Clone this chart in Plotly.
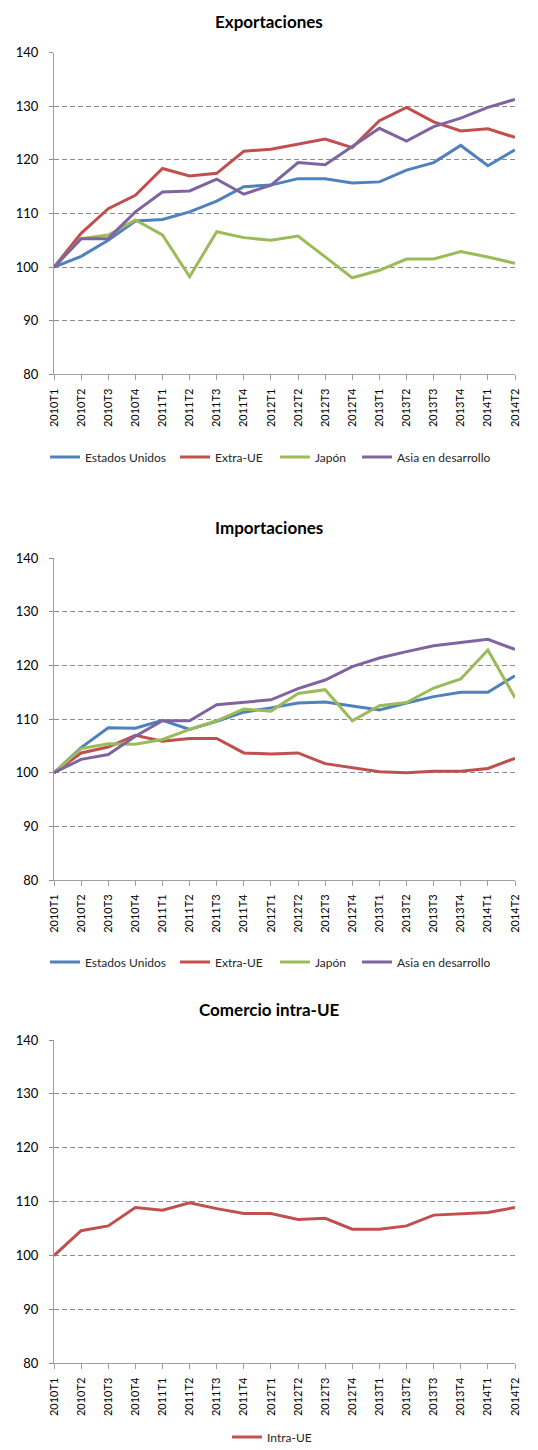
import plotly.graph_objects as go

W, H = 538, 1450

periods = ["2010T1", "2010T2", "2010T3", "2010T4", "2011T1", "2011T2", "2011T3", "2011T4",
           "2012T1", "2012T2", "2012T3", "2012T4", "2013T1", "2013T2", "2013T3", "2013T4",
           "2014T1", "2014T2"]

# Exportaciones
exp_eeuu = [100, 102.0, 105.0, 108.6, 108.9, 110.3, 112.3, 115.0, 115.3, 116.5, 116.5, 115.7,
            115.9, 118.1, 119.5, 122.7, 118.9, 121.9]
exp_extra = [100, 106.3, 110.9, 113.4, 118.4, 117.0, 117.5, 121.6, 122.0, 122.9, 123.9, 122.3,
             127.3, 129.8, 127.1, 125.4, 125.8, 124.2]
exp_japon = [100, 105.3, 106.0, 108.8, 106.0, 98.2, 106.6, 105.5, 105.0, 105.8, 101.9, 98.0,
             99.4, 101.5, 101.5, 102.9, 101.9, 100.7]
exp_asia = [100, 105.3, 105.3, 110.3, 114.0, 114.2, 116.4, 113.6, 115.3, 119.5, 119.1, 122.5,
            125.9, 123.5, 126.2, 127.8, 129.8, 131.3]

# Importaciones
imp_eeuu = [100, 104.7, 108.4, 108.3, 109.8, 108.1, 109.6, 111.3, 112.1, 113.0, 113.2, 112.5,
            111.7, 113.0, 114.2, 115.0, 115.0, 118.1]
imp_extra = [100, 103.7, 104.8, 107.0, 105.9, 106.4, 106.4, 103.7, 103.5, 103.7, 101.7, 101.0,
             100.2, 100.0, 100.3, 100.3, 100.8, 102.7]
imp_japon = [100, 104.5, 105.4, 105.3, 106.2, 108.1, 109.7, 111.9, 111.5, 114.8, 115.5, 109.7,
             112.5, 113.1, 115.8, 117.5, 122.9, 114.0]
imp_asia = [100, 102.5, 103.4, 106.8, 109.7, 109.7, 112.7, 113.1, 113.6, 115.7, 117.3, 119.8,
            121.4, 122.6, 123.7, 124.3, 124.9, 123.0]

# Comercio intra-UE
intra_ue = [100, 104.6, 105.5, 108.9, 108.4, 109.8, 108.7, 107.8, 107.8, 106.7, 106.9, 104.9,
            104.9, 105.5, 107.5, 107.7, 108.0, 108.9]

colors = {"Estados Unidos": "#4F81BD", "Extra-UE": "#C0504D", "Japón": "#9BBB59",
          "Asia en desarrollo": "#8064A2", "Intra-UE": "#C0504D"}

titles = ["Exportaciones", "Importaciones", "Comercio intra-UE"]
yticks = [80, 90, 100, 110, 120, 130, 140]

FONT = "Lato, 'Open Sans', sans-serif"

# pixel geometry of each panel (top, bottom), titles, legend rows and legend entries
panels = [(52.7, 374.3), (558.3, 880.0), (1040.0, 1363.3)]
title_y = [21, 527, 1010]
legend_y = [457, 962, 1437]
legend_x = {"Estados Unidos": 51, "Extra-UE": 181, "Japón": 281,
            "Asia en desarrollo": 363, "Intra-UE": 233}
x_left, x_right = 54, 515


def py(v):
    return 1 - v / H


fig = go.Figure()

panel_data = [
    [("Estados Unidos", exp_eeuu), ("Extra-UE", exp_extra), ("Japón", exp_japon),
     ("Asia en desarrollo", exp_asia)],
    [("Estados Unidos", imp_eeuu), ("Extra-UE", imp_extra), ("Japón", imp_japon),
     ("Asia en desarrollo", imp_asia)],
    [("Intra-UE", intra_ue)],
]

legend_common = dict(
    orientation="h", xref="paper", yref="paper", yanchor="middle", xanchor="left",
    font=dict(family=FONT, size=12, color="#262626"), bgcolor="rgba(0,0,0,0)",
    itemwidth=30, tracegroupgap=0, borderwidth=0,
)

layout = dict(
    width=W, height=H, autosize=False,
    margin=dict(l=0, r=0, t=0, b=0, pad=0, autoexpand=False),
    paper_bgcolor="white", plot_bgcolor="white",
    font=dict(family=FONT, color="#000000"),
    annotations=[], showlegend=True,
)

n_leg = 0
for k, data in enumerate(panel_data):
    xa = "x" if k == 0 else f"x{k+1}"
    ya = "y" if k == 0 else f"y{k+1}"
    for name, vals in data:
        n_leg += 1
        lg = "legend" if n_leg == 1 else f"legend{n_leg}"
        fig.add_trace(go.Scatter(
            x=periods, y=vals, name=name, mode="lines",
            line=dict(color=colors[name], width=3),
            xaxis=xa, yaxis=ya, legend=lg,
        ))
        layout[lg] = dict(legend_common, x=(legend_x[name] - 6) / W, y=py(legend_y[k]))

axis_common_x = dict(
    type="category", range=[0, 17], showgrid=False, showline=True,
    linecolor="#A0A0A0", linewidth=1, ticks="outside", ticklen=5, tickcolor="#A0A0A0",
    tickangle=-90, tickfont=dict(family=FONT, size=11, color="#000000"),
    ticklabelstandoff=4, zeroline=False, fixedrange=True, automargin=False,
)
axis_common_y = dict(
    range=[80, 140], tickvals=yticks, showgrid=True, gridcolor="#8C8C8C", gridwidth=1,
    griddash="5px,3px", showline=True, linecolor="#A0A0A0", linewidth=1,
    ticks="outside", ticklen=4, tickcolor="#8C8C8C", ticklabelstandoff=8,
    tickfont=dict(family=FONT, size=13, color="#000000"), zeroline=False, fixedrange=True,
    automargin=False,
)

for k, (top, bot) in enumerate(panels):
    xname = "xaxis" if k == 0 else f"xaxis{k+1}"
    yname = "yaxis" if k == 0 else f"yaxis{k+1}"
    ya = "y" if k == 0 else f"y{k+1}"
    xa = "x" if k == 0 else f"x{k+1}"
    layout[xname] = dict(axis_common_x, domain=[x_left / W, x_right / W], anchor=ya)
    layout[yname] = dict(axis_common_y, domain=[py(bot), py(top)], anchor=xa)
    layout["annotations"].append(dict(
        text=f"<b>{titles[k]}</b>", x=269 / W, y=py(title_y[k]), xref="paper", yref="paper",
        xanchor="center", yanchor="middle", showarrow=False,
        font=dict(family=FONT, size=17, color="#000000"),
    ))

fig.update_layout(**layout)
fig.write_html(
    "out.html",
    config={"displayModeBar": False, "responsive": False},
    post_script="document.body.style.margin='0px';document.body.style.overflow='hidden';",
)
